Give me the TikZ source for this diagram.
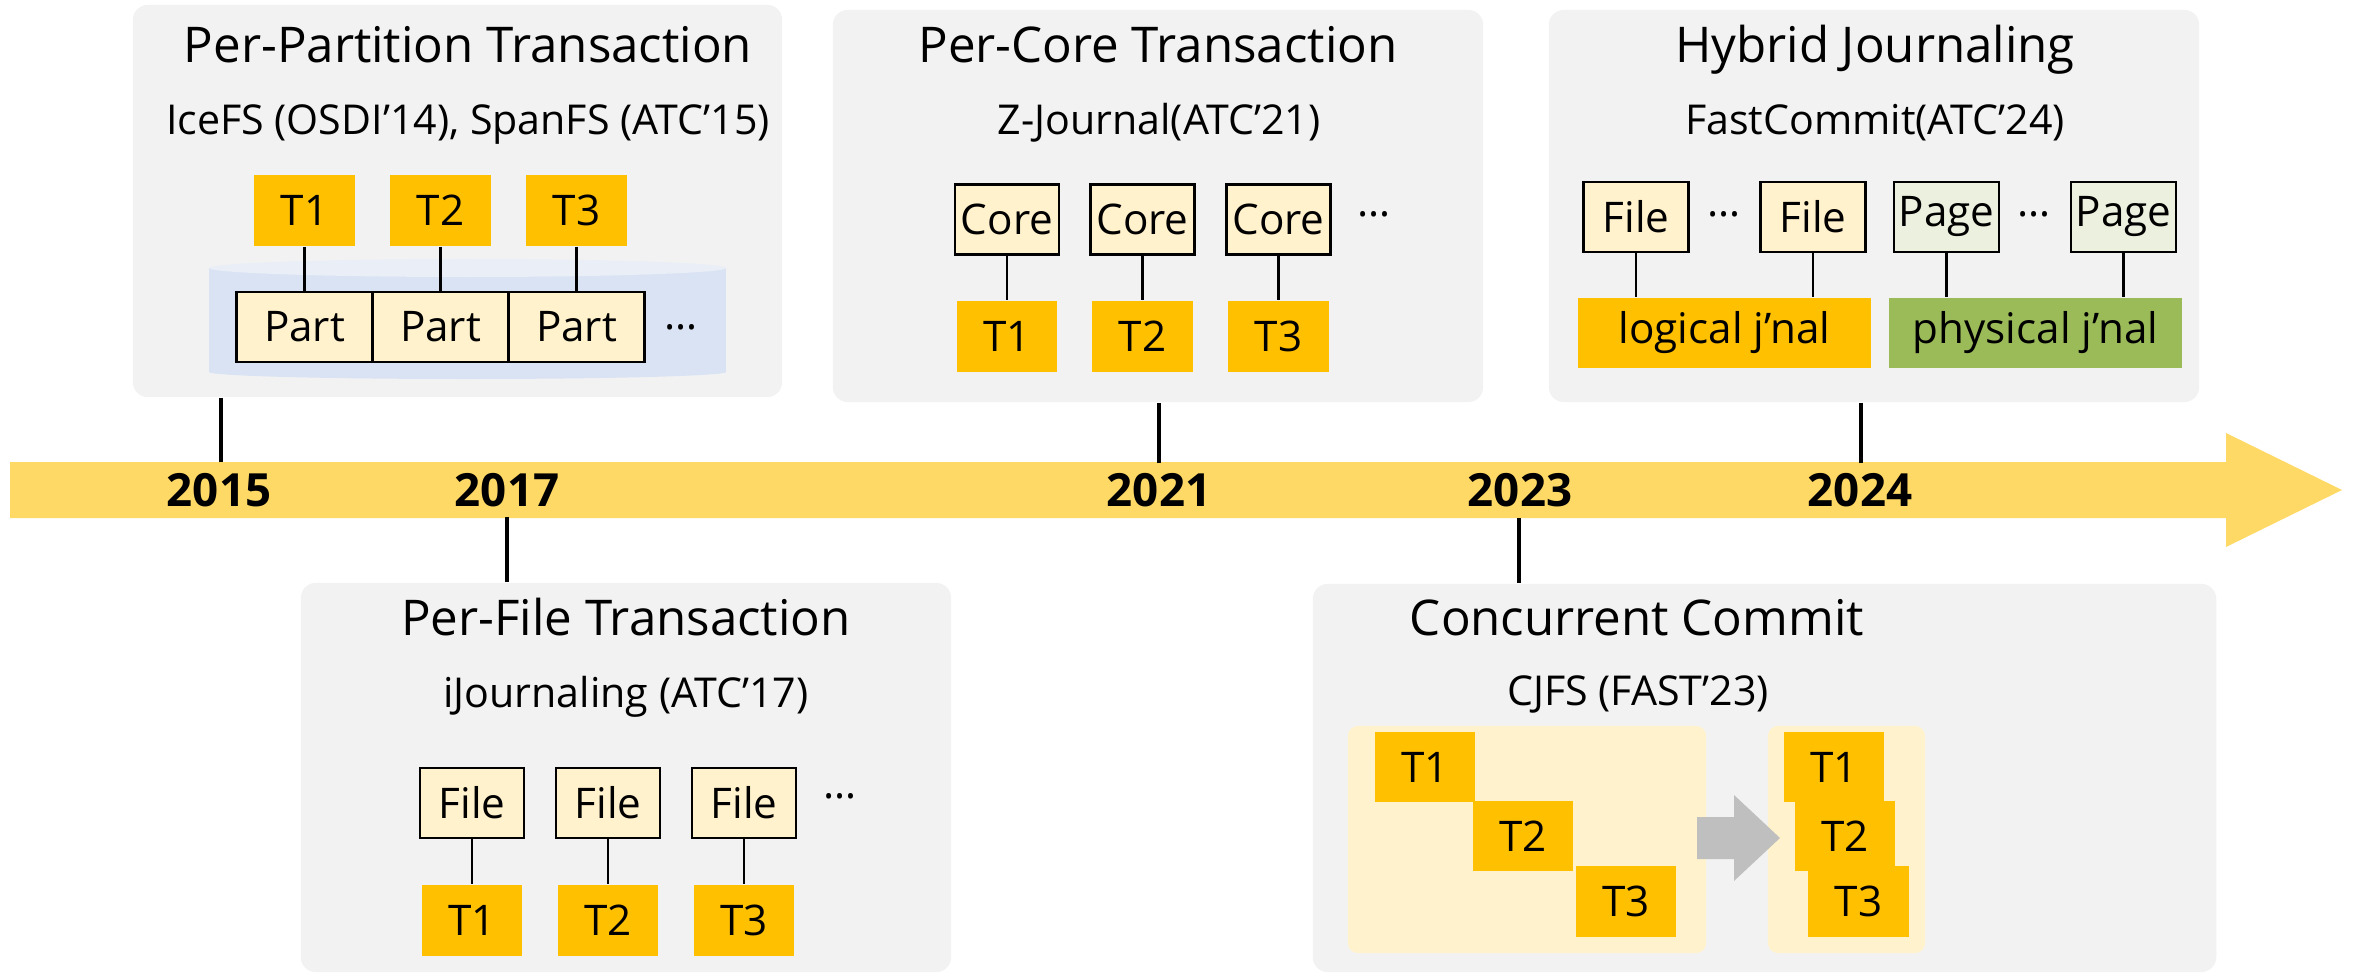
\documentclass[tikz,border=0pt]{standalone}
\usepackage{fontspec}
\setmainfont{Open Sans}
\usetikzlibrary{positioning}

\begin{document}
\begin{tikzpicture}[x=0.01cm,y=-0.01cm,
        panel/.style={fill=panelGray,rounded corners=0.15cm,inner sep=0pt},
        title/.style={anchor=base,font=\fontsize{14}{16}\selectfont},
        cite/.style={anchor=base,font=\fontsize{11.7}{13}\selectfont},
        tbox/.style={fill=tYellow,minimum width=1cm,minimum height=0.71cm,inner sep=0pt,font=\fontsize{12}{14}\selectfont},
        unit/.style={draw,line width=0.8pt,fill=unitCream,minimum height=0.7cm,inner sep=0pt,font=\fontsize{12}{14}\selectfont},
        link/.style={line width=0.6pt},
        tick/.style={line width=1.3pt},
        year/.style={font=\fontsize{13}{15}\selectfont\bfseries},
        dots/.style={font=\fontsize{12}{14}\selectfont}]
            \definecolor{panelGray}{HTML}{F2F2F2}
            \definecolor{tYellow}{HTML}{FFC000}
            \definecolor{unitCream}{HTML}{FFF2CC}
            \definecolor{pageGreen}{HTML}{EBF1DE}
            \definecolor{physGreen}{HTML}{9BBB59}
            \definecolor{cylBlue}{HTML}{DAE3F3}
            \definecolor{cylTop}{HTML}{E9EEF7}
            \definecolor{lineGold}{HTML}{FFD966}
            \definecolor{arrowGray}{HTML}{BFBFBF}
            \useasboundingbox (0,0) rectangle (2354,973);

            % time line
            \fill[lineGold] (10,462) -- (2226,462) -- (2226,433) -- (2342,490) -- (2226,547) -- (2226,518) -- (10,518) -- cycle;
            \foreach \yr/\x in {2015/219,2017/507,2021/1159,2023/1520,2024/1860}
                {   \node[year] (y\yr) at (\x,490) {\yr};
                }

            % panels
            \node[panel,minimum width=6.49cm,minimum height=3.92cm] (p1) at (457.5,201) {};
            \node[panel,minimum width=6.5cm,minimum height=3.92cm] (p2) at (1158,206) {};
            \node[panel,minimum width=6.5cm,minimum height=3.92cm] (p3) at (1874,206) {};
            \node[panel,minimum width=6.5cm,minimum height=3.89cm] (p4) at (626,777.5) {};
            \node[panel,minimum width=9.03cm,minimum height=3.88cm] (p5) at (1764.5,778) {};

            \coordinate (t2015) at (221,462);
            \coordinate (t2021) at (1159,463);
            \coordinate (t2024) at (1861,463);
            \coordinate (t2017) at (507,517);
            \coordinate (t2023) at (1519,518);
            \draw[tick] (t2015) -- (t2015 |- p1.south);
            \draw[tick] (t2021) -- (t2021 |- p2.south);
            \draw[tick] (t2024) -- (t2024 |- p3.south);
            \draw[tick] (t2017) -- (t2017 |- p4.north);
            \draw[tick] (t2023) -- (t2023 |- p5.north);

            % per-partition
            \node[title] (h1) at (468,63) {Per-Partition Transaction};
            \node[cite] (c1) at (468,135) {IceFS (OSDI'14), SpanFS (ATC'15)};
            \fill[cylBlue] (209,268) rectangle (726,372);
            \fill[cylBlue] (467.5,372) ellipse [x radius=2.585cm,y radius=0.07cm];
            \fill[cylTop] (467.5,268) ellipse [x radius=2.585cm,y radius=0.09cm];
            \foreach \i/\x in {1/304.5,2/440.5,3/576.5}
                {   \node[unit,minimum width=1.36cm] (part\i) at (\x,327) {Part};
                    \node[tbox] (pt\i) at (\x,210.5) {T\i};
                    \draw[link] (pt\i) -- (part\i);
                }
            \node[dots] (d1) at (681,327) {\dots};

            % per-core
            \node[title] (h2) at (1158,63) {Per-Core Transaction};
            \node[cite] (c2) at (1159,135) {Z-Journal(ATC'21)};
            \foreach \i/\x in {1/1007,2/1142.5,3/1278.5}
                {   \node[unit,minimum width=1.04cm] (core\i) at (\x,219.5) {Core};
                    \node[tbox] (ct\i) at (\x,336.5) {T\i};
                    \draw[link] (core\i) -- (ct\i);
                }
            \node[dots] (d2) at (1374,214) {\dots};

            % hybrid
            \node[title] (h3) at (1875,63) {Hybrid Journaling};
            \node[cite] (c3) at (1875,135) {FastCommit(ATC'24)};
            \node[tbox,minimum width=2.93cm,minimum height=0.7cm] (logical) at (1724.5,333) {logical j'nal};
            \node[tbox,fill=physGreen,minimum width=2.93cm,minimum height=0.7cm] (physical) at (2035.5,333) {physical j'nal};
            \foreach \n/\x/\c/\t/\j in {hf1/1636/unitCream/File/logical,hf2/1813/unitCream/File/logical,hp1/1946.5/pageGreen/Page/physical,hp2/2123.5/pageGreen/Page/physical}
                {   \node[unit,fill=\c,minimum width=1.05cm] (\n) at (\x,217) {\t};
                    \draw[link] (\n) -- (\n |- \j.north);
                }
            \node[dots] (d3) at (1724,214) {\dots};
            \node[dots] (d4) at (2034,214) {\dots};

            % per-file
            \node[title] (h4) at (626,635) {Per-File Transaction};
            \node[cite] (c4) at (626,707) {iJournaling (ATC'17)};
            \foreach \i/\x in {1/472,2/608,3/744}
                {   \node[unit,minimum width=1.04cm] (file\i) at (\x,803) {File};
                    \node[tbox] (ft\i) at (\x,920.5) {T\i};
                    \draw[link] (file\i) -- (ft\i);
                }
            \node[dots] (d5) at (840,796) {\dots};

            % concurrent commit
            \node[title] (h5) at (1637,635) {Concurrent Commit};
            \node[cite] (c5) at (1638,705) {CJFS (FAST'23)};
            \node[fill=unitCream,rounded corners=0.1cm,minimum width=3.58cm,minimum height=2.27cm] (serial) at (1527,839.5) {};
            \node[fill=unitCream,rounded corners=0.1cm,minimum width=1.57cm,minimum height=2.27cm] (merged) at (1846.5,839.5) {};
            \node[tbox,minimum height=0.7cm] (st1) at (1425,767) {T1};
            \node[tbox,minimum height=0.7cm] (st2) at (1523,836) {T2};
            \node[tbox,minimum height=0.7cm] (st3) at (1626,901.5) {T3};
            \fill[arrowGray] (1697,817) -- (1734,817) -- (1734,795) -- (1780,838) -- (1734,881) -- (1734,859) -- (1697,859) -- cycle;
            \node[tbox,minimum height=0.7cm] (mt1) at (1834,767) {T1};
            \node[tbox,minimum height=0.7cm] (mt2) at (1845,836) {T2};
            \node[tbox,minimum height=0.7cm] (mt3) at (1858.5,901.5) {T3};
        \end{tikzpicture}
\end{document}
